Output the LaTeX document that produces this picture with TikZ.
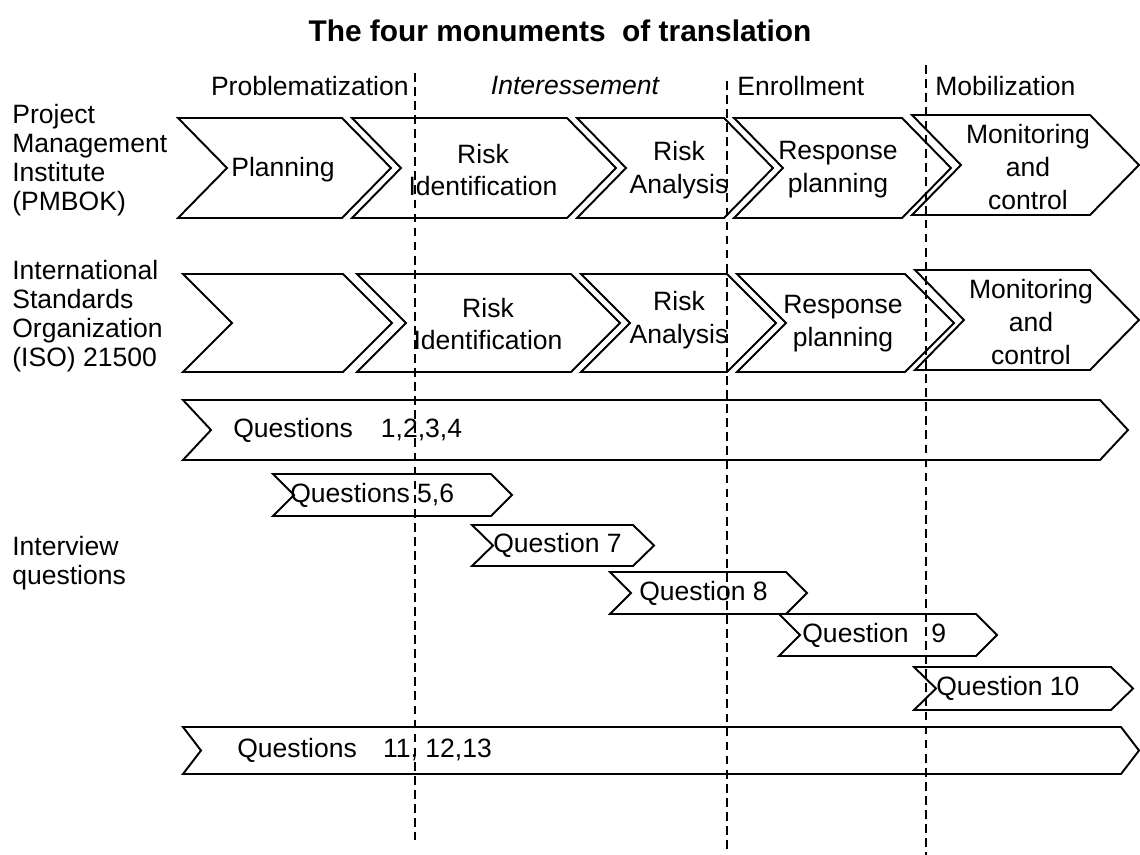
\documentclass[tikz,border=0pt]{standalone}
\usepackage{fontspec}
\setmainfont{Liberation Sans}
\usepackage{tikz}
\usetikzlibrary{positioning}

% chevron: left x, right x, top y, bottom y, point depth
\newcommand{\chev}[5]{%
  \draw[box] (#1,#3) -- (#2,#3) -- ({#2+#5},{(#3+#4)/2}) -- (#2,#4) -- (#1,#4)
    -- ({#1+#5},{(#3+#4)/2}) -- cycle;}

\begin{document}
\begin{tikzpicture}[x=0.02cm, y=-0.02cm,
  box/.style = {draw, line width=1.1pt, fill=white},
  lbl/.style = {inner sep=0, align=center, font=\fontsize{15.1pt}{18.7pt}\selectfont},
  side/.style = {inner sep=0, align=left, anchor=west, font=\fontsize{15.1pt}{16.4pt}\selectfont},
  cut/.style = {line width=1.1pt, dash pattern=on 5pt off 3pt}]
\useasboundingbox (0,0) rectangle (1140,855);

% title and phases
\node[inner sep=0, font=\fontsize{17pt}{20pt}\selectfont\bfseries] (title) at (560,31) {The four monuments\ \ of translation};
\node[lbl, anchor=east] (prob) at (409,86) {Problematization};
\node[lbl] (inter) at (575,86) {\itshape Interessement};
\node[lbl, anchor=west] (enrol) at (737,86) {Enrollment};
\node[lbl, anchor=west] (mobil) at (935,86) {Mobilization};

% row labels
\node[side] (pmi) at (12,160) {Project\\Management\\Institute\\(PMBOK)};
\node[side] (iso) at (12,316) {International\\Standards\\Organization\\(ISO) 21500};
\node[side] (intq) at (12,563) {Interview\\questions};

% PMBOK row
\chev{178}{342}{118}{218}{49}
\chev{352}{567}{118}{218}{49}
\chev{577}{724}{118}{218}{49}
\chev{734}{902}{118}{218}{49}
\chev{912}{1090}{115}{215}{49}
\node[lbl] (plan1) at (283,170) {Planning};
\node[lbl] (riskid1) at (483,170) {Risk\\Identification};
\node[lbl] (riskan1) at (679,170) {Risk\\Analysis};
\node[lbl] (resp1) at (838,170) {Response\\planning};
\node[lbl] (monit1) at (1028,167) {Monitoring\\and\\control};

% ISO row
\chev{183}{343}{274}{372}{49}
\chev{357}{571}{274}{372}{49}
\chev{581}{727}{274}{372}{49}
\chev{737}{905}{274}{372}{49}
\chev{915}{1090}{270}{370}{49}
\node[lbl] (riskid2) at (488,324) {Risk\\Identification};
\node[lbl] (riskan2) at (679,320) {Risk\\Analysis};
\node[lbl] (resp2) at (843,324) {Response\\planning};
\node[lbl] (monit2) at (1031,322) {Monitoring\\and\\control};

% interview questions
\chev{183}{1100}{400}{460}{28}
\chev{273}{491}{474}{516}{21}
\chev{472}{633}{525}{566}{21}
\chev{610}{786}{572}{614}{21}
\chev{779}{976}{614}{656}{21}
\chev{914}{1111}{667}{710}{22}
\chev{183}{1121}{727}{774}{18}
\node[lbl, anchor=west] (q1) at (233,430) {Questions\hspace{16pt}1,2,3,4};
\node[lbl, anchor=west] (q5) at (290,495) {Questions 5,6};
\node[lbl, anchor=west] (q7) at (493,545) {Question 7};
\node[lbl, anchor=west] (q8) at (639,593) {Question 8};
\node[lbl, anchor=west] (q9) at (802,635) {Question\hspace{13pt}9};
\node[lbl, anchor=west] (q10) at (936,688) {Question 10};
\node[lbl, anchor=west] (q11) at (237,750) {Questions\hspace{15pt}11, 12,13};

% phase borders
\coordinate (c1t) at (415,73);  \coordinate (c1b) at (415,840);
\coordinate (c2t) at (727,81);  \coordinate (c2b) at (727,850);
\coordinate (c3t) at (926,65);  \coordinate (c3b) at (926,855);
\draw[cut] (c1t) -- (c1b);
\draw[cut] (c2t) -- (c2b);
\draw[cut] (c3t) -- (c3b);
\end{tikzpicture}
\end{document}
